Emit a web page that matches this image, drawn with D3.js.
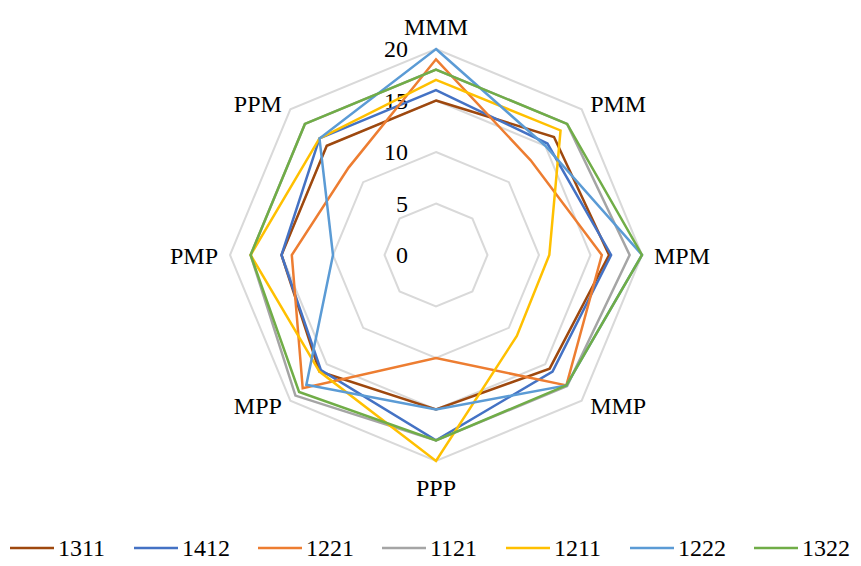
<!DOCTYPE html>
<html>
<head>
<meta charset="utf-8">
<script src="https://cdn.jsdelivr.net/npm/d3@7"></script>
<style>
  html, body { margin: 0; padding: 0; background: #fff; }
  svg text { font-family: "Liberation Serif", "Times New Roman", serif; fill: #000; }
</style>
</head>
<body>
<svg id="chart" width="861" height="566"></svg>
<script>
// Axes, clockwise from the top
const axes = ["MMM", "PMM", "MPM", "MMP", "PPP", "MPP", "PMP", "PPM"];
const ringTicks = [0, 5, 10, 15, 20];
const seriesNames = ["1311", "1412", "1221", "1121", "1211", "1222", "1322"];
const seriesColors = ["#9E480E", "#4472C4", "#ED7D31", "#A5A5A5", "#FFC000", "#5B9BD5", "#70AD47"];

const v1311 = [15, 16.2, 16.8, 15.6, 15, 16, 15, 15];
const v1412 = [16, 15.3, 17, 16, 18, 15.8, 15, 16];
const v1221 = [19, 13, 16.1, 17.9, 10, 18.3, 14, 12];
const v1121 = [18, 18, 18.8, 18, 18, 19.3, 18, 18];
const v1211 = [17, 17.1, 11, 11.1, 20, 16, 18, 16];
const v1222 = [20, 15, 20, 17.9, 15, 17.8, 10, 16];
const v1322 = [18, 18, 20, 17.9, 18, 18.8, 18, 18];
const seriesValues = [v1311, v1412, v1221, v1121, v1211, v1222, v1322];

const svg = d3.select("#chart");
const cx = 436, cy = 255, R = 206;

const r = d3.scaleLinear().domain([0, 20]).range([0, R]);
const angle = d3.scalePoint().domain(axes).range([0, 2 * Math.PI * (axes.length - 1) / axes.length]);

const pt = (ax, v) => {
  const a = angle(ax);
  return [cx + r(v) * Math.sin(a), cy - r(v) * Math.cos(a)];
};

// Octagonal grid rings
const ringLine = d3.line().curve(d3.curveLinearClosed);
svg.append("g").selectAll("path")
  .data(ringTicks.filter(t => t > 0))
  .join("path")
  .attr("d", t => ringLine(axes.map(ax => pt(ax, t))))
  .attr("fill", "none")
  .attr("stroke", "#D9D9D9")
  .attr("stroke-width", 2);

// Ring value labels along the vertical axis
svg.append("g").selectAll("text")
  .data(ringTicks)
  .join("text")
  .attr("x", cx - 28)
  .attr("y", t => cy - r(t))
  .attr("text-anchor", "end")
  .attr("dominant-baseline", "central")
  .attr("font-size", 24)
  .text(t => t);

// Series polygons
const seriesG = svg.append("g");
seriesValues.forEach((vals, i) => {
  seriesG.append("path")
    .attr("d", ringLine(axes.map((ax, k) => pt(ax, vals[k]))))
    .attr("fill", "none")
    .attr("stroke", seriesColors[i])
    .attr("stroke-width", 2.5)
    .attr("stroke-linejoin", "miter");
});

// Category labels around the outside
svg.append("g").selectAll("text")
  .data(axes)
  .join("text")
  .each(function (ax) {
    const a = angle(ax);
    const s = Math.sin(a), c = Math.cos(a);
    const sel = d3.select(this);
    let x, y, anchor;
    if (Math.abs(s) < 0.1) {
      x = cx;
      anchor = "middle";
      y = c > 0 ? cy - R - 22 : cy + R + 27;
    } else if (Math.abs(c) < 0.1) {
      x = s > 0 ? cx + R + 12 : cx - R - 12;
      y = cy + 1;
      anchor = s > 0 ? "start" : "end";
    } else {
      x = cx + (R + 12) * s * Math.SQRT1_2 / Math.abs(s);
      y = cy - (R + 12) * c * Math.SQRT1_2 / Math.abs(c) + (c > 0 ? 3 : -3);
      anchor = s > 0 ? "start" : "end";
    }
    sel.attr("x", x).attr("y", y)
      .attr("text-anchor", anchor)
      .attr("dominant-baseline", "central")
      .attr("font-size", 24)
      .text(ax);
  });

// Legend
const legend = svg.append("g").attr("transform", "translate(10,548)");
const item = legend.selectAll("g")
  .data(seriesNames)
  .join("g")
  .attr("transform", (d, i) => `translate(${i * 124},0)`);
item.append("line")
  .attr("x1", 0).attr("x2", 44)
  .attr("y1", 0).attr("y2", 0)
  .attr("stroke", (d, i) => seriesColors[i])
  .attr("stroke-width", 2.5);
item.append("text")
  .attr("x", 48)
  .attr("y", 0)
  .attr("dominant-baseline", "central")
  .attr("font-size", 24)
  .text(d => d);
</script>
</body>
</html>
